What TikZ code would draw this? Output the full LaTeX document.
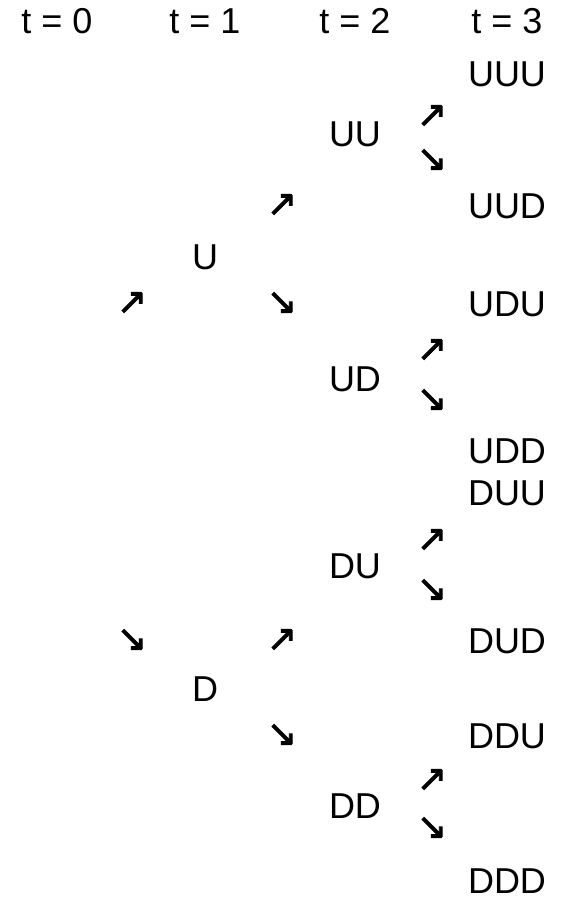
\documentclass[tikz,border=0pt]{standalone}
\usepackage{fontspec}
\setmainfont{Liberation Sans}
\newfontfamily\arrowfont[FakeBold=2.5]{DejaVu Sans}

\begin{document}
\begin{tikzpicture}[
  x=1pt, y=-1pt,
  lbl/.style={font=\fontsize{36}{42}\selectfont, inner sep=0pt,
              text height=26pt, text depth=0pt},
  state/.style={lbl},
  upar/.style={font=\arrowfont\fontsize{36}{40}\selectfont, inner sep=0pt},
  dnar/.style={upar},
]
\useasboundingbox (0,0) rectangle (568,904);
% ---- time headers ----
\node[lbl] (t0) at (57,21)  {t = 0};
\node[lbl] (t1) at (205,21) {t = 1};
\node[lbl] (t2) at (355,21) {t = 2};
\node[lbl] (t3) at (507,21) {t = 3};

% ---- t = 1 ----
\node[state] (U) at (205,256) {U};
\node[state] (D) at (205,688) {D};

% ---- t = 2 ----
\node[state] (UU) at (355,134) {UU};
\node[state] (UD) at (355,378) {UD};
\node[state] (DU) at (355,565) {DU};
\node[state] (DD) at (355,805) {DD};

% ---- t = 3 ----
\foreach \s/\y in {UUU/74,UUD/205,UDU/303,UDD/450,DUU/492,DUD/640,DDU/735,DDD/880}{
  \node[state] (\s) at (507,\y) {\s};
}

% ---- moves t = 0 -> 1 ----
\node[upar] (a0u) at (132,303) {↗};
\node[dnar] (a0d) at (132,640) {↘};

% ---- moves t = 1 -> 2 ----
\node[upar] (aUu) at (282,205) {↗};
\node[dnar] (aUd) at (282,303) {↘};
\node[upar] (aDu) at (282,640) {↗};
\node[dnar] (aDd) at (282,735) {↘};

% ---- moves t = 2 -> 3 ----
\foreach \n/\yu/\yd in {UU/116/160,UD/350/400,DU/540/590,DD/780/828}{
  \node[upar] (a\n u) at (432,\yu) {↗};
  \node[dnar] (a\n d) at (432,\yd) {↘};
}
\end{tikzpicture}
\end{document}
